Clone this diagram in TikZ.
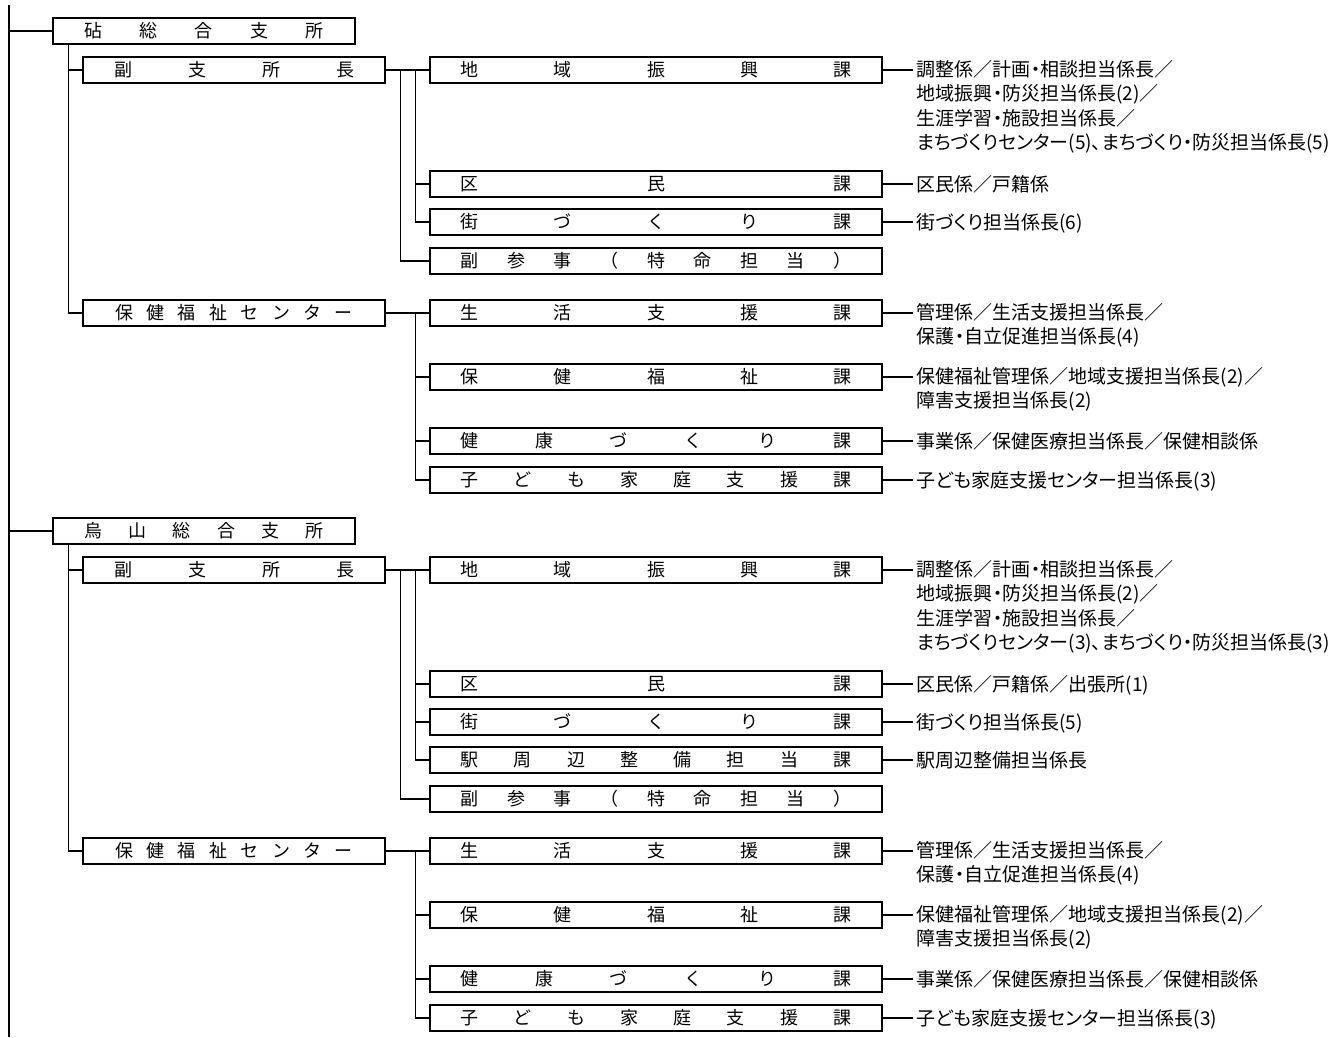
\documentclass[tikz,border=0pt]{standalone}
\usepackage{fontspec}
\newfontfamily\jpfont{Noto Sans CJK JP}
\newfontfamily\jppfont[RawFeature=+palt]{Noto Sans CJK JP}

\newcommand\spread[2]{\makebox[#1pt]{#2}}

\tikzset{
    line/.style = {line width = 1.4pt},
    shisho/.style = {draw, line width = 1.4pt, minimum width = 302pt, minimum height = 26pt,
        inner sep = 0pt, font = \jpfont\fontsize{18}{18}\selectfont},
    ka/.style = {shisho, minimum width = 452pt},
    kakari/.style = {anchor = north west, inner ysep = 0pt, inner xsep = 4pt, align = left,
        font = \jppfont\fontsize{19}{24.5}\selectfont, execute at begin node = \strut},
}

\begin{document}
\begin{tikzpicture}[x = 1pt, y = -1pt]
        \useasboundingbox (0, 0) rectangle (1341, 1037);

        \coordinate (top) at (9, 5);
        \coordinate (bottom) at (9, 1037);
        \draw[line] (top) -- (bottom);

        % kinuta
        \node[shisho] (kinuta) at (204, 31) {\spread{240}{砧\hfill 総\hfill 合\hfill 支\hfill 所}};
        \node[shisho] (fuku1) at (234, 70) {\spread{240}{副\hfill 支\hfill 所\hfill 長}};
        \node[ka] (chiiki1) at (656, 70) {\spread{391}{地\hfill 域\hfill 振\hfill 興\hfill 課}};
        \node[ka] (kumin1) at (656, 184) {\spread{391}{区\hfill 民\hfill 課}};
        \node[ka] (machi1) at (656, 222) {\spread{391}{街\hfill づ\hfill く\hfill り\hfill 課}};
        \node[ka] (sanji1) at (656, 261) {\spread{391}{副\hfill 参\hfill 事\hfill （\hfill 特\hfill 命\hfill 担\hfill 当\hfill ）}};
        \node[shisho] (hoken1) at (234, 313) {\spread{238}{保\hfill 健\hfill 福\hfill 祉\hfill セ\hfill ン\hfill タ\hfill ー}};
        \node[ka] (seikatsu1) at (656, 313) {\spread{391}{生\hfill 活\hfill 支\hfill 援\hfill 課}};
        \node[ka] (fukushi1) at (656, 377) {\spread{391}{保\hfill 健\hfill 福\hfill 祉\hfill 課}};
        \node[ka] (kenko1) at (656, 441) {\spread{391}{健\hfill 康\hfill づ\hfill く\hfill り\hfill 課}};
        \node[ka] (kodomo1) at (656, 480) {\spread{391}{子\hfill ど\hfill も\hfill 家\hfill 庭\hfill 支\hfill 援\hfill 課}};

        % karasuyama
        \node[shisho] (karasu) at (204, 531) {\spread{239}{烏\hfill 山\hfill 総\hfill 合\hfill 支\hfill 所}};
        \node[shisho] (fuku2) at (234, 570) {\spread{240}{副\hfill 支\hfill 所\hfill 長}};
        \node[ka] (chiiki2) at (656, 570) {\spread{391}{地\hfill 域\hfill 振\hfill 興\hfill 課}};
        \node[ka] (kumin2) at (656, 684) {\spread{391}{区\hfill 民\hfill 課}};
        \node[ka] (machi2) at (656, 722) {\spread{391}{街\hfill づ\hfill く\hfill り\hfill 課}};
        \node[ka] (eki2) at (656, 760) {\spread{391}{駅\hfill 周\hfill 辺\hfill 整\hfill 備\hfill 担\hfill 当\hfill 課}};
        \node[ka] (sanji2) at (656, 799) {\spread{391}{副\hfill 参\hfill 事\hfill （\hfill 特\hfill 命\hfill 担\hfill 当\hfill ）}};
        \node[shisho] (hoken2) at (234, 851) {\spread{238}{保\hfill 健\hfill 福\hfill 祉\hfill セ\hfill ン\hfill タ\hfill ー}};
        \node[ka] (seikatsu2) at (656, 851) {\spread{391}{生\hfill 活\hfill 支\hfill 援\hfill 課}};
        \node[ka] (fukushi2) at (656, 915) {\spread{391}{保\hfill 健\hfill 福\hfill 祉\hfill 課}};
        \node[ka] (kenko2) at (656, 979) {\spread{391}{健\hfill 康\hfill づ\hfill く\hfill り\hfill 課}};
        \node[ka] (kodomo2) at (656, 1018) {\spread{391}{子\hfill ど\hfill も\hfill 家\hfill 庭\hfill 支\hfill 援\hfill 課}};

        % kakari
        \path (chiiki1.east) ++(30, -10) node[kakari] (chiiki1-k) {調整係／計画・相談担当係長／\\地域振興・防災担当係長(2)／\\生涯学習・施設担当係長／\\まちづくりセンター(5)、まちづくり・防災担当係長(5)};
        \path (kumin1.east) ++(30, -10) node[kakari] (kumin1-k) {区民係／戸籍係};
        \path (machi1.east) ++(30, -10) node[kakari] (machi1-k) {街づくり担当係長(6)};
        \path (seikatsu1.east) ++(30, -10) node[kakari] (seikatsu1-k) {管理係／生活支援担当係長／\\保護・自立促進担当係長(4)};
        \path (fukushi1.east) ++(30, -10) node[kakari] (fukushi1-k) {保健福祉管理係／地域支援担当係長(2)／\\障害支援担当係長(2)};
        \path (kenko1.east) ++(30, -10) node[kakari] (kenko1-k) {事業係／保健医療担当係長／保健相談係};
        \path (kodomo1.east) ++(30, -10) node[kakari] (kodomo1-k) {子ども家庭支援センター担当係長(3)};

        \path (chiiki2.east) ++(30, -10) node[kakari] (chiiki2-k) {調整係／計画・相談担当係長／\\地域振興・防災担当係長(2)／\\生涯学習・施設担当係長／\\まちづくりセンター(3)、まちづくり・防災担当係長(3)};
        \path (kumin2.east) ++(30, -10) node[kakari] (kumin2-k) {区民係／戸籍係／出張所(1)};
        \path (machi2.east) ++(30, -10) node[kakari] (machi2-k) {街づくり担当係長(5)};
        \path (eki2.east) ++(30, -10) node[kakari] (eki2-k) {駅周辺整備担当係長};
        \path (seikatsu2.east) ++(30, -10) node[kakari] (seikatsu2-k) {管理係／生活支援担当係長／\\保護・自立促進担当係長(4)};
        \path (fukushi2.east) ++(30, -10) node[kakari] (fukushi2-k) {保健福祉管理係／地域支援担当係長(2)／\\障害支援担当係長(2)};
        \path (kenko2.east) ++(30, -10) node[kakari] (kenko2-k) {事業係／保健医療担当係長／保健相談係};
        \path (kodomo2.east) ++(30, -10) node[kakari] (kodomo2-k) {子ども家庭支援センター担当係長(3)};

        % lines
        \foreach \s/\n in {kinuta/1, karasu/2}{
                \draw[line] (\s.west -| top) -- (\s.west);
                \draw[line] (\s.south west) ++(16, 0) |- (fuku\n.west);
                \draw[line] (\s.south west) ++(16, 0) |- (hoken\n.west);
                \draw[line] (fuku\n.east) -- (chiiki\n.west);
                \draw[line] (fuku\n.east) ++(15, 0) |- (sanji\n.west);
                \draw[line] (hoken\n.east) -- (seikatsu\n.west);
                \foreach \k in {fukushi, kenko, kodomo}{
                        \draw[line] (hoken\n.east) ++(30, 0) |- (\k\n.west);
                    }
            }
        \draw[line] (fuku1.east) ++(30, 0) |- (kumin1.west);
        \draw[line] (fuku1.east) ++(30, 0) |- (machi1.west);
        \draw[line] (fuku2.east) ++(30, 0) |- (kumin2.west);
        \draw[line] (fuku2.east) ++(30, 0) |- (machi2.west);
        \draw[line] (fuku2.east) ++(30, 0) |- (eki2.west);

        \foreach \n in {chiiki1, kumin1, machi1, seikatsu1, fukushi1, kenko1, kodomo1,
                chiiki2, kumin2, machi2, eki2, seikatsu2, fukushi2, kenko2, kodomo2}{
                \draw[line] (\n.east) -- (\n.east -| \n-k.west);
            }
    \end{tikzpicture}
\end{document}
